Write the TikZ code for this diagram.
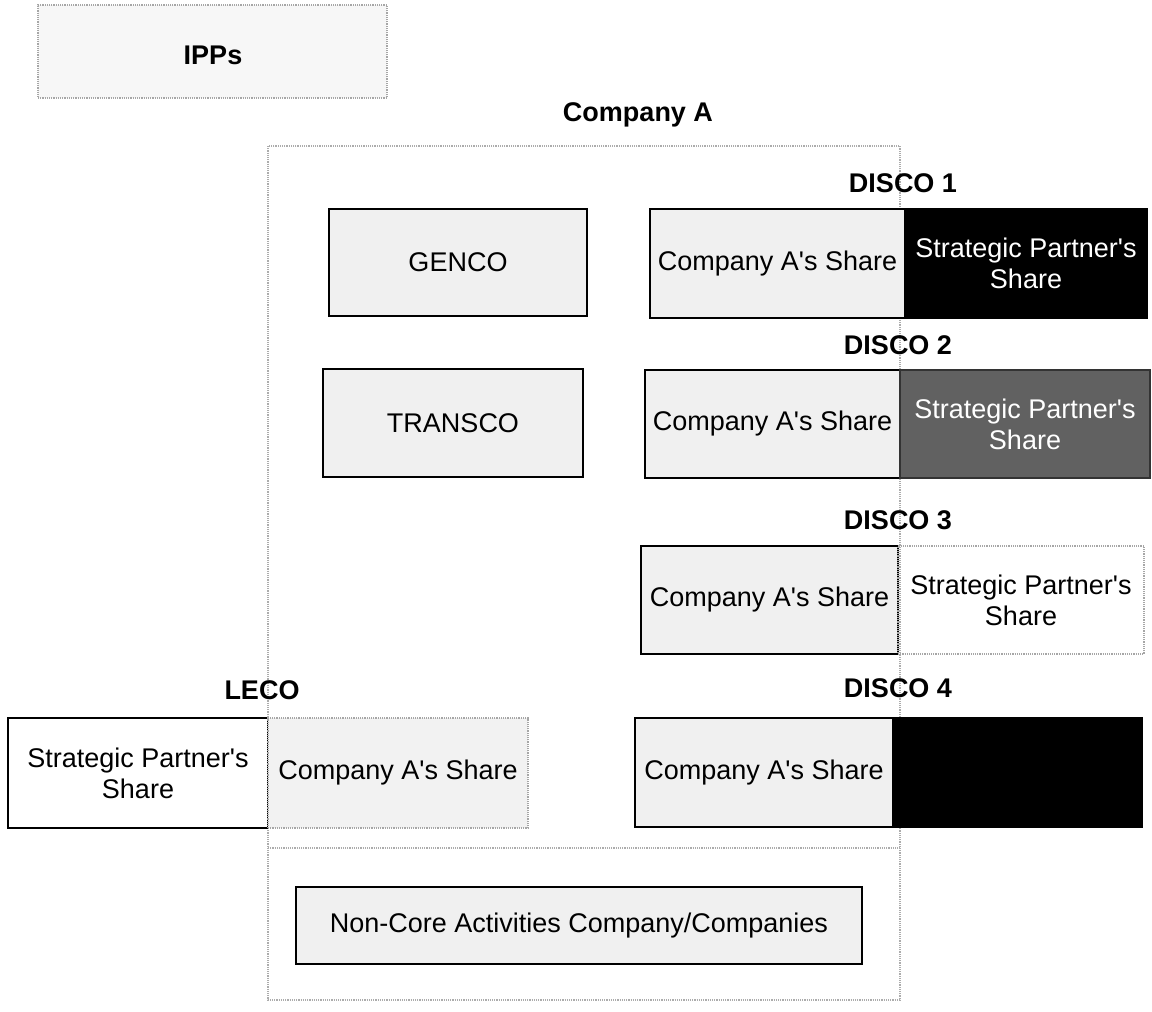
\documentclass[tikz,border=0pt]{standalone}
\usepackage{fontspec}
\setmainfont{Liberation Sans}[Ligatures=TeXOff]
\begin{document}
\begin{tikzpicture}[x=1pt,y=-1pt,
  every node/.style={font=\fontsize{27}{31}\selectfont, align=center, inner sep=0pt, outer sep=0pt},
  lbl/.style={font=\fontsize{27}{31}\selectfont\bfseries},
  cell/.style={anchor=north west, draw=black, line width=1.8pt, fill=gray!12},
  blackcell/.style={anchor=north west, draw=black, line width=1.8pt, fill=black, text=white},
  darkcell/.style={anchor=north west, draw=black!80, line width=1.8pt, fill=black!62, text=white},
  opencell/.style={anchor=north west, draw=black, line width=1.6pt, fill=white},
  dotcell/.style={anchor=north west, draw=gray!70, densely dotted, line width=1.2pt},
  dotline/.style={draw=gray!65, densely dotted, line width=1.2pt}
]
\useasboundingbox (0,0) rectangle (1152,1012);

% Company A outline and divider
\coordinate (ctl) at (268,146);
\coordinate (cbr) at (900,1000);
\coordinate (dvl) at (268,848);
\coordinate (dvr) at (900,848);
\draw[dotline] (ctl) rectangle (cbr);
\draw[dotline] (dvl) -- (dvr);

% IPPs
\node[dotcell, fill=gray!6, minimum width=349pt, minimum height=93pt] (ipps) at (38,5) {};
\node[lbl] (ippst) at (213,55) {IPPs};

\node[lbl] (compa) at (638,115) {Company A};

% GENCO / TRANSCO
\node[cell, minimum width=258pt, minimum height=107pt] (genco) at (329,209) {GENCO};
\node[cell, minimum width=260pt, minimum height=108pt] (transco) at (323,369) {TRANSCO};

% DISCO 1
\node[lbl] (d1l) at (903,183) {DISCO 1};
\node[cell, minimum width=255pt, minimum height=109pt] (d1a) at (650,209) {Company A's Share};
\node[blackcell, minimum width=242pt, minimum height=109pt] (d1b) at (d1a.north east) {Strategic Partner's\\Share};

% DISCO 2
\node[lbl] (d2l) at (898,345) {DISCO 2};
\node[cell, minimum width=255pt, minimum height=108pt] (d2a) at (645,370) {Company A's Share};
\node[darkcell, minimum width=250pt, minimum height=108pt] (d2b) at (d2a.north east) {Strategic Partner's\\Share};

% DISCO 3
\node[lbl] (d3l) at (898,520) {DISCO 3};
\node[cell, minimum width=257pt, minimum height=108pt] (d3a) at (641,546) {Company A's Share};
\node[dotcell, minimum width=246pt, minimum height=108pt] (d3b) at (d3a.north east) {Strategic Partner's\\Share};

% LECO
\node[lbl] (lecol) at (262,690) {LECO};
\node[opencell, minimum width=260pt, minimum height=110pt] (lecoa) at (8,718) {Strategic Partner's\\Share};
\node[dotcell, fill=gray!10, minimum width=260pt, minimum height=110pt] (lecob) at (lecoa.north east) {Company A's Share};

% DISCO 4
\node[lbl] (d4l) at (898,688) {DISCO 4};
\node[cell, minimum width=258pt, minimum height=109pt] (d4a) at (635,718) {Company A's Share};
\node[blackcell, minimum width=249pt, minimum height=109pt] (d4b) at (d4a.north east) {};

% Non-core
\node[cell, minimum width=566pt, minimum height=77pt] (noncore) at (296,887) {Non-Core Activities Company/Companies};
\end{tikzpicture}
\end{document}
